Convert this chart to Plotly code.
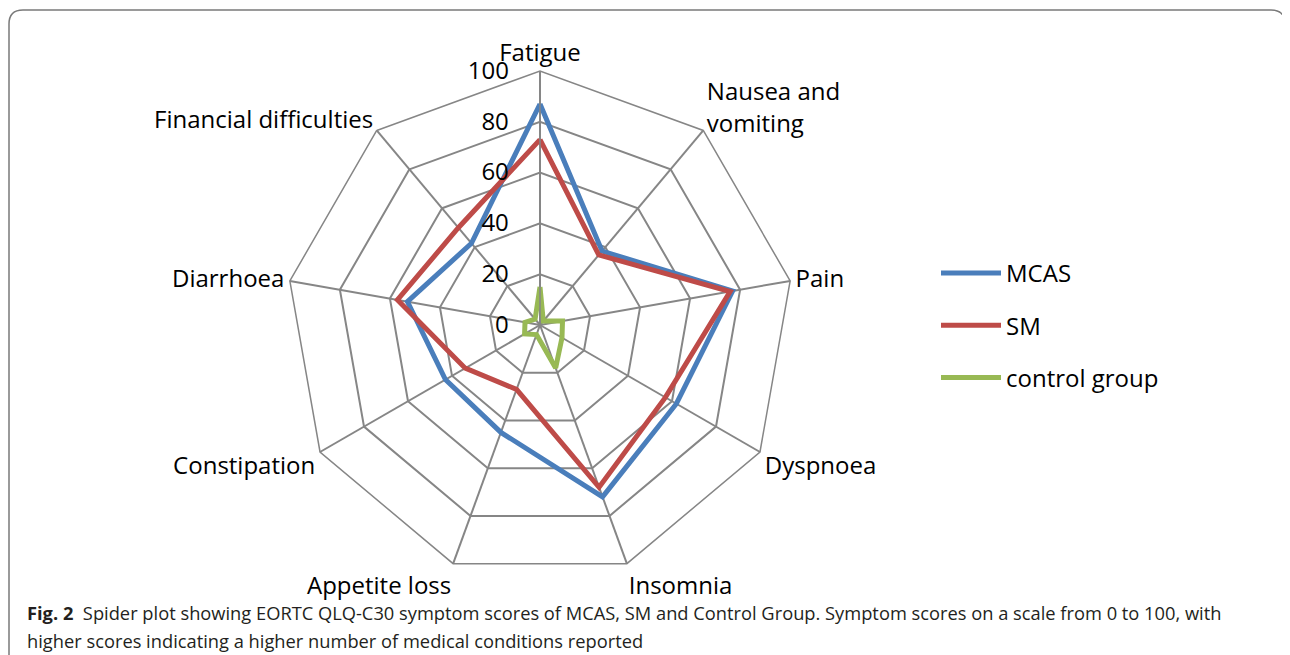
import plotly.graph_objects as go

categories = ["Fatigue", "Nausea and<br>vomiting", "Pain", "Dyspnoea", "Insomnia",
              "Appetite loss", "Constipation", "Diarrhoea", "Financial difficulties"]
mcas = [87, 38, 77, 62, 72, 45, 43, 53, 42]
sm = [73, 36, 76, 57, 68, 27, 34, 57, 50]
control = [15, 2, 9, 10, 18, 4, 7, 6, 3]
radial_ticks = [0, 20, 40, 60, 80, 100]

series = [("MCAS", mcas, "#4A7EBB"), ("SM", sm, "#BE4B48"), ("control group", control, "#98B954")]

# page offset (browser body margin)
OFF = 8
W, H = 1290 - OFF, 655 - OFF


def px(x):
    return (x - OFF) / W


def py(y):
    return 1 - (y - OFF) / H


fig = go.Figure()
for name, vals, col in series:
    fig.add_trace(go.Scatterpolar(
        r=vals + vals[:1], theta=categories + categories[:1], mode="lines",
        name=name, legendgroup=name,
        line=dict(color=col, width=5), subplot="polar"))

cx, cy, R = 540, 325, 254
grid = "#868686"
fig.update_layout(
    width=W, height=H, margin=dict(l=0, r=0, t=0, b=0),
    paper_bgcolor="white", plot_bgcolor="white",
    font=dict(family="Open Sans", color="black"),
    polar=dict(
        domain=dict(x=[px(cx - R), px(cx + R)], y=[py(cy + R), py(cy - R)]),
        bgcolor="white", gridshape="linear",
        radialaxis=dict(range=[0, 100], tickvals=radial_ticks, angle=90, tickangle=90,
                        side="counterclockwise", showline=True, linecolor=grid, linewidth=1.5,
                        gridcolor=grid, gridwidth=1.5, ticks="outside", ticklen=22,
                        tickcolor="rgba(0,0,0,0)",
                        tickfont=dict(size=24, color="black", family="Open Sans")),
        angularaxis=dict(rotation=90, direction="clockwise", showline=True,
                         linecolor=grid, linewidth=1.5, gridcolor=grid, gridwidth=1.5,
                         ticks="", tickfont=dict(size=24, color="black", family="Open Sans")),
    ),
    legend=dict(x=px(943) - 7 / W, y=py(251), xanchor="left", yanchor="top",
                font=dict(size=24, family="Open Sans"), itemwidth=60, tracegroupgap=18,
                bgcolor="rgba(0,0,0,0)"),
    showlegend=True,
)

# rounded border around the figure
x0, x1 = px(9), px(1285)
y_top = py(10)
y_bot = -0.2
rx, ry = 14 / W, 14 / H
path = (f"M {x0},{y_bot} L {x0},{y_top - ry} Q {x0},{y_top} {x0 + rx},{y_top} "
        f"L {x1 - rx},{y_top} Q {x1},{y_top} {x1},{y_top - ry} L {x1},{y_bot}")
fig.add_shape(type="path", path=path, xref="paper", yref="paper",
              line=dict(color="#7a7a7a", width=1.5))

cap_font = dict(size=18.3, family="Open Sans", color="#231F20")
fig.add_annotation(
    x=px(25), y=py(612), xref="paper", yref="paper", xanchor="left", yanchor="middle",
    align="left", showarrow=False,
    text=("<b>Fig. 2</b>  Spider plot showing EORTC QLQ-C30 symptom scores of MCAS, SM and Control Group. "
          "Symptom scores on a scale from 0 to 100, with"),
    font=cap_font)
fig.add_annotation(
    x=px(25), y=py(640), xref="paper", yref="paper", xanchor="left", yanchor="middle",
    align="left", showarrow=False,
    text="higher scores indicating a higher number of medical conditions reported",
    font=cap_font)

fig.write_html("out.html")
